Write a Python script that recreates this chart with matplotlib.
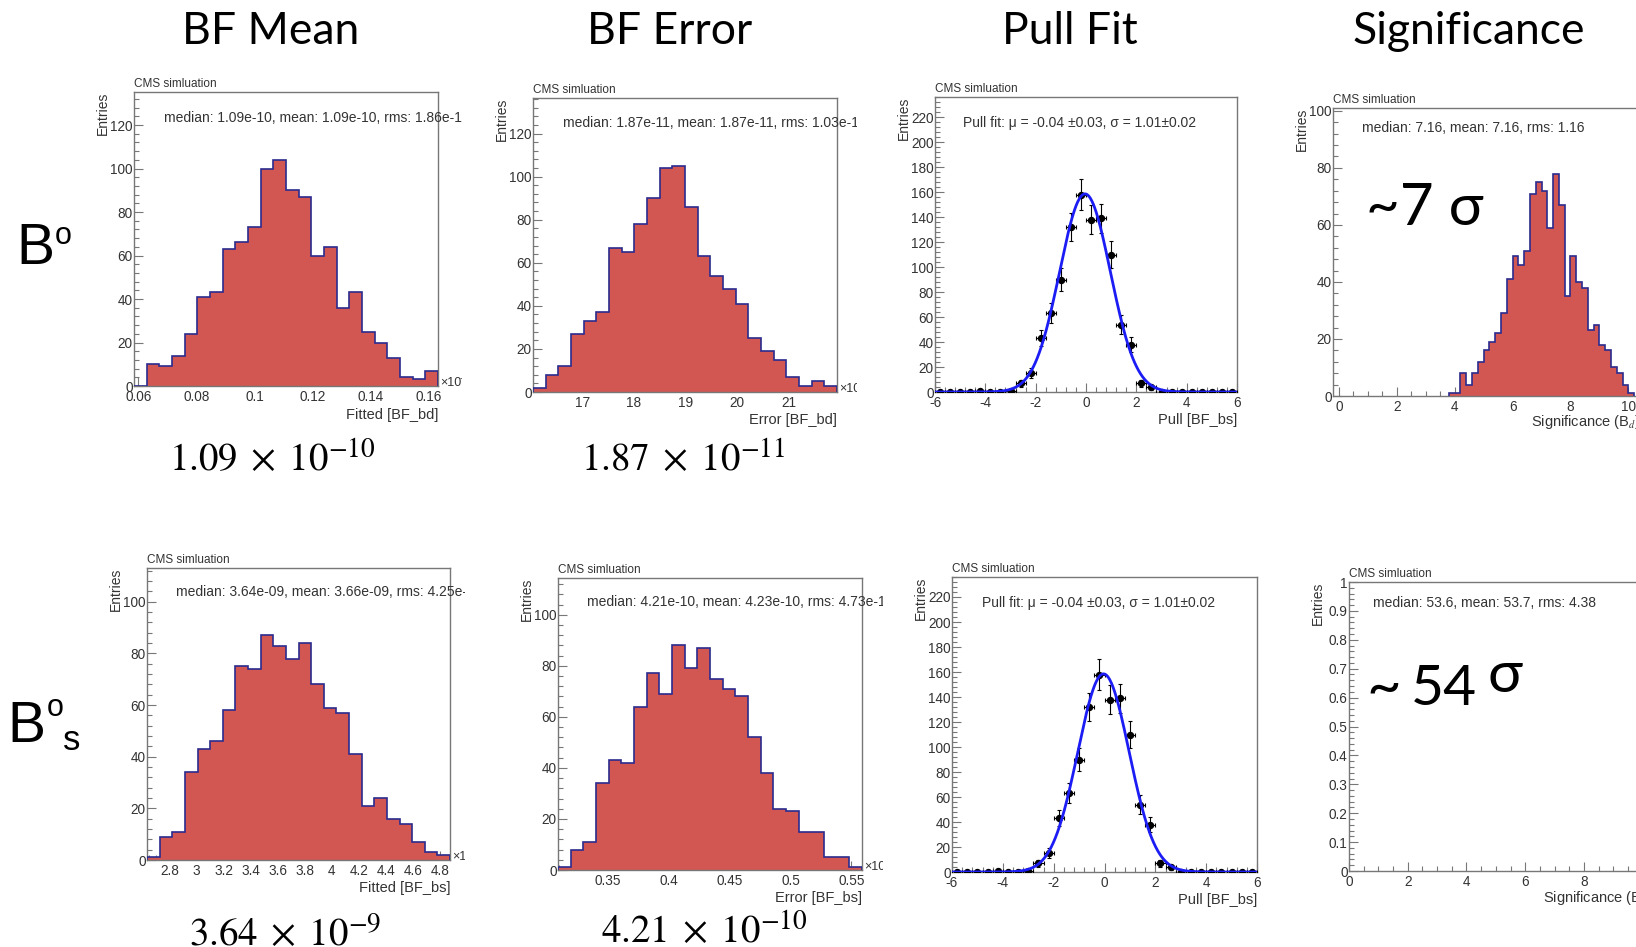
import numpy as np
import matplotlib
matplotlib.use("Agg")
import matplotlib.pyplot as plt
from matplotlib.ticker import MultipleLocator, FuncFormatter
from matplotlib.transforms import Bbox, TransformedBbox

plt.rcParams['font.family'] = ['Liberation Sans', 'DejaVu Sans']
plt.rcParams['mathtext.fontset'] = 'stix'

# ---------------- data ----------------
col_titles = ["BF Mean", "BF Error", "Pull Fit", "Significance"]

bd_mean_range = (0.0585, 0.1632)
bd_mean_counts = [0, 10, 9, 14, 24, 41, 43, 63, 66, 73, 100, 104, 90, 87, 60, 64, 36, 43, 25, 20, 13, 4, 3, 7]

bd_err_range = (16.04, 21.94)
bd_err_counts = [2, 8, 12, 27, 33, 37, 67, 65, 78, 90, 104, 105, 86, 63, 54, 48, 41, 25, 19, 15, 7, 3, 5, 3]

bs_mean_range = (2.635, 4.874)
bs_mean_counts = [1, 9, 11, 34, 43, 46, 58, 75, 74, 87, 83, 78, 84, 68, 59, 57, 41, 21, 24, 16, 14, 7, 3, 2]

bs_err_range = (0.3088, 0.5588)
bs_err_counts = [1, 8, 11, 34, 43, 42, 64, 77, 69, 88, 79, 87, 75, 71, 68, 52, 38, 24, 23, 15, 15, 5, 5, 1]

pull_range = (-6.0, 6.0)
pull_counts = [0, 0, 0, 0, 1, 0, 0, 1, 7, 15, 43, 63, 90, 132, 158, 138, 139, 110, 54, 38, 7, 4,
               0, 0, 0, 0, 0, 0, 0, 0]
pull_fit_mu = -0.04
pull_fit_sigma = 1.01
pull_fit_amp = 158.5

sig_bd_start = 3.8
sig_bd_width = 0.2
sig_bd_counts = [1, 1, 8, 4, 8, 12, 16, 19, 22, 29, 41, 49, 46, 51, 71, 75, 72, 59, 78, 67, 35, 49,
                 40, 38, 23, 25, 18, 16, 10, 8, 4, 1]

stats_texts = {
    "bd_mean": "median: 1.09e-10, mean: 1.09e-10, rms: 1.86e-10",
    "bd_err": "median: 1.87e-11, mean: 1.87e-11, rms: 1.03e-12",
    "bs_mean": "median: 3.64e-09, mean: 3.66e-09, rms: 4.25e-10",
    "bs_err": "median: 4.21e-10, mean: 4.23e-10, rms: 4.73e-11",
    "pull": "Pull fit: \u03bc = -0.04 \u00b10.03, \u03c3 = 1.01\u00b10.02",
    "sig_bd": "median: 7.16, mean: 7.16, rms: 1.16",
    "sig_bs": "median: 53.6, mean: 53.7, rms: 4.38",
}
result_labels = [r"$1.09\;\times\;10^{-10}$", r"$1.87\;\times\;10^{-11}$",
                 r"$3.64\;\times\;10^{-9}$", r"$4.21\;\times\;10^{-10}$"]

# ---------------- figure ----------------
W, H = 1636, 947
fig = plt.figure(figsize=(W / 100, H / 100), dpi=100)

FILL = "#d25652"
EDGE = "#2b2b8f"
FRAME = "#777777"
TXT = "#333333"


def fx(x):
    return x / W


def fy(y):
    return 1 - y / H


def panel(l, t, r, b, xlim, ylim, xmaj, xmin, ymaj, ymin):
    ax = fig.add_axes([fx(l), fy(b), (r - l) / W, (b - t) / H])
    ax.set_xlim(*xlim)
    ax.set_ylim(*ylim)
    ax.xaxis.set_major_locator(MultipleLocator(xmaj))
    ax.xaxis.set_minor_locator(MultipleLocator(xmin))
    ax.yaxis.set_major_locator(MultipleLocator(ymaj))
    ax.yaxis.set_minor_locator(MultipleLocator(ymin))
    fmt = FuncFormatter(lambda v, p: ("%g" % round(v, 6)))
    ax.xaxis.set_major_formatter(fmt)
    ax.yaxis.set_major_formatter(fmt)
    ax.tick_params(which="both", direction="in", top=False, right=False,
                   colors=FRAME, labelcolor=TXT, labelsize=9.8)
    ax.tick_params(which="major", length=6.5, width=0.8)
    ax.tick_params(which="minor", length=3.3, width=0.8)
    ax.tick_params(axis="x", pad=3)
    ax.tick_params(axis="y", pad=1)
    for s in ax.spines.values():
        s.set_color(FRAME)
        s.set_linewidth(1.0)
    ax.text(0, 1.006, "CMS simluation", transform=ax.transAxes, ha="left", va="bottom",
            fontsize=8.5, color=TXT)
    ax.text(-31 / (r - l), 1.0, "Entries", transform=ax.transAxes, rotation=90,
            ha="center", va="top", fontsize=10, color=TXT)
    return ax


def clipped_text(x, y, s, clip_right, **kw):
    t = fig.text(fx(x), fy(y), s, clip_on=True, **kw)
    bb = TransformedBbox(Bbox.from_extents(0, 0, fx(clip_right), 1), fig.transFigure)
    t.set_clip_box(bb)
    return t


def exponent(x, y, sup, clip_right):
    clipped_text(x, y, "\u00d710", clip_right, ha="left", va="center", fontsize=9, color=TXT)
    clipped_text(x + 20, y - 5, sup, clip_right, ha="left", va="center", fontsize=6.5, color=TXT)


def hist(ax, rng, counts):
    edges = np.linspace(rng[0], rng[1], len(counts) + 1)
    ax.stairs(counts, edges, fill=True, color=FILL, zorder=2)
    ax.stairs(counts, edges, fill=False, color=EDGE, lw=1.2, zorder=3)


def pull(ax):
    edges = np.linspace(pull_range[0], pull_range[1], len(pull_counts) + 1)
    centers = 0.5 * (edges[:-1] + edges[1:])
    half = 0.5 * (edges[1] - edges[0])
    cnt = np.array(pull_counts, dtype=float)
    ax.errorbar(centers, cnt, xerr=half, yerr=np.sqrt(cnt), fmt="o", color="black",
                ms=4.3, elinewidth=0.8, capsize=1.5, capthick=0.8, zorder=3)
    xs = np.linspace(pull_range[0], pull_range[1], 600)
    ax.plot(xs, pull_fit_amp * np.exp(-0.5 * ((xs - pull_fit_mu) / pull_fit_sigma) ** 2),
            color="#1c1cf5", lw=2.0, zorder=4)


def xlabel(x, y, s, ha="right"):
    fig.text(fx(x), fy(y), s, ha=ha, va="center", fontsize=10.5, color=TXT)


BIG = ["Lato", "DejaVu Sans"]

# ---- Row 1 ----
ax1 = panel(134, 92, 438, 386, bd_mean_range, (0, 135.2), 0.02, 0.004, 20, 4)
hist(ax1, bd_mean_range, bd_mean_counts)
clipped_text(164, 118, stats_texts["bd_mean"], 462, ha="left", va="center", fontsize=10, color=TXT)
exponent(440, 383, "-9", 462)
xlabel(438, 415, "Fitted [BF_bd]")

ax2 = panel(533, 98, 837, 392, bd_err_range, (0, 136.5), 1, 0.2, 20, 4)
hist(ax2, bd_err_range, bd_err_counts)
clipped_text(563, 123, stats_texts["bd_err"], 857, ha="left", va="center", fontsize=10, color=TXT)
exponent(839, 389, "-12", 857)
xlabel(837, 420, "Error [BF_bd]")

ax3 = panel(935, 97, 1237, 392, pull_range, (0, 236), 2, 0.4, 20, 4)
pull(ax3)
fig.text(fx(963), fy(123), stats_texts["pull"], ha="left", va="center", fontsize=10, color=TXT)
xlabel(1237, 420, "Pull [BF_bs]")

ax4 = panel(1333, 108, 1640, 396, (-0.2, 10.4), (0, 101), 2, 0.5, 20, 4)
sig_edges = sig_bd_start + sig_bd_width * np.arange(len(sig_bd_counts) + 1)
ax4.stairs(sig_bd_counts, sig_edges, fill=True, color=FILL, zorder=2)
ax4.stairs(sig_bd_counts, sig_edges, fill=False, color=EDGE, lw=1.2, zorder=3)
fig.text(fx(1362), fy(128), stats_texts["sig_bd"], ha="left", va="center", fontsize=10, color=TXT)
xlabel(1531, 422, r"Significance (B$_d$)", ha="left")
fig.text(fx(1366), fy(225), "~7 \u03c3", ha="left", va="baseline", fontsize=42,
         family=BIG, color="black")

# ---- Row 2 ----
ax5 = panel(147, 568, 450, 860, bs_mean_range, (0, 113.1), 0.2, 0.05, 20, 4)
hist(ax5, bs_mean_range, bs_mean_counts)
clipped_text(176, 592, stats_texts["bs_mean"], 465, ha="left", va="center", fontsize=10, color=TXT)
exponent(452, 857, "-9", 465)
xlabel(450, 888, "Fitted [BF_bs]")

ax6 = panel(558, 578, 862, 870, bs_err_range, (0, 114.4), 0.05, 0.01, 20, 4)
hist(ax6, bs_err_range, bs_err_counts)
clipped_text(587, 602, stats_texts["bs_err"], 883, ha="left", va="center", fontsize=10, color=TXT)
exponent(864, 867, "-9", 883)
xlabel(862, 898, "Error [BF_bs]")

ax7 = panel(952, 577, 1257, 872, pull_range, (0, 236), 2, 0.4, 20, 4)
pull(ax7)
fig.text(fx(982), fy(603), stats_texts["pull"], ha="left", va="center", fontsize=10, color=TXT)
xlabel(1257, 900, "Pull [BF_bs]")

ax8 = panel(1349, 582, 1650, 871, (0, 10.25), (0, 1), 2, 0.5, 0.1, 0.02)
fig.text(fx(1373), fy(603), stats_texts["sig_bs"], ha="left", va="center", fontsize=10, color=TXT)
xlabel(1543, 898, r"Significance (B$_s$)", ha="left")
fig.text(fx(1366), fy(705), "~", ha="left", va="baseline", fontsize=43,
         family=BIG, color="black")
fig.text(fx(1411), fy(705), "54", ha="left", va="baseline", fontsize=41,
         family=BIG, color="black")
fig.text(fx(1488), fy(692), "\u03c3", ha="left", va="baseline", fontsize=42,
         family=BIG, color="black")

# ---- column titles ----
for x, s in zip([271, 670, 1070, 1469], col_titles):
    fig.text(fx(x), fy(31), s, ha="center", va="center", fontsize=32,
             family=BIG, color="black")

# ---- row labels ----
fig.text(fx(16), fy(264), "B", ha="left", va="baseline", fontsize=41, color="black")
fig.text(fx(55), fy(244), "o", ha="left", va="baseline", fontsize=22, color="black")
fig.text(fx(7), fy(742), "B", ha="left", va="baseline", fontsize=41, color="black")
fig.text(fx(47), fy(716), "o", ha="left", va="baseline", fontsize=22, color="black")
fig.text(fx(63), fy(750), "s", ha="left", va="baseline", fontsize=25, color="black")

# ---- result values ----
for (x, y), s in zip([(272, 472), (683, 472), (285, 946), (704, 944)], result_labels):
    fig.text(fx(x), fy(y), s, ha="center", va="baseline", fontsize=28, color="black")

fig.savefig("out.png", dpi=100)
